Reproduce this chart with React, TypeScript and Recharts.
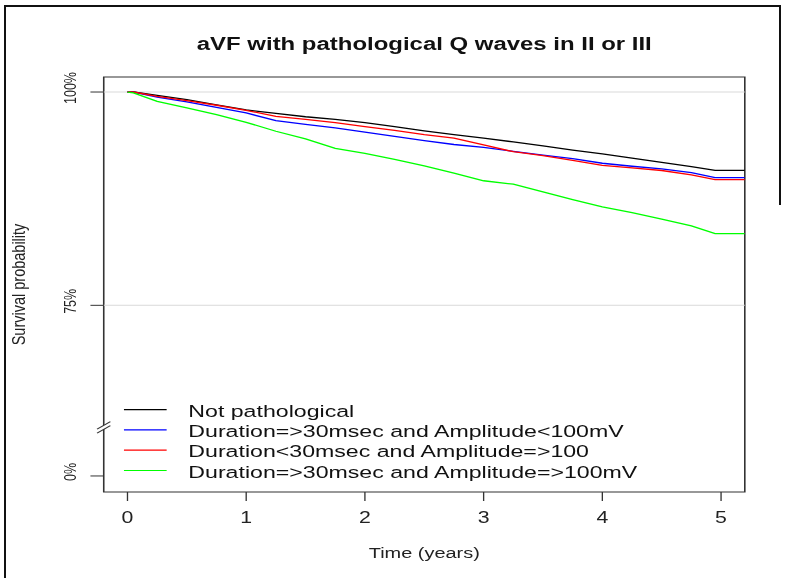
import React from "react";
import {
  LineChart,
  Line,
  XAxis,
  YAxis,
  Legend,
  ReferenceLine,
  ReferenceArea,
  ReferenceDot,
} from "recharts";

// follow-up time (years)
const times = [
  0, 0.05, 0.25, 0.5, 0.75, 1, 1.25, 1.5, 1.75, 2, 2.25, 2.5, 2.75, 3, 3.25,
  3.5, 3.75, 4, 4.25, 4.5, 4.75, 4.95, 5.2,
];

// survival (%) per group
const notPathological = [
  100, 100, 99.6, 99.1, 98.5, 97.9, 97.5, 97.1, 96.8, 96.4, 95.95, 95.45,
  95.0, 94.6, 94.15, 93.7, 93.2, 92.75, 92.25, 91.75, 91.25, 90.82, 90.82,
];
const durLongAmpLow = [
  100, 100, 99.4, 98.85, 98.2, 97.55, 96.65, 96.2, 95.8, 95.3, 94.8, 94.3,
  93.85, 93.5, 93.05, 92.6, 92.2, 91.65, 91.3, 91.0, 90.55, 89.97, 89.97,
];
const durShortAmpHigh = [
  100, 100, 99.5, 99.0, 98.45, 97.85, 97.15, 96.8, 96.4, 95.95, 95.5, 95.0,
  94.6, 93.8, 93.0, 92.55, 92.0, 91.4, 91.1, 90.8, 90.3, 89.73, 89.73,
];
const durLongAmpHigh = [
  100, 99.9, 98.9, 98.15, 97.35, 96.45, 95.4, 94.5, 93.4, 92.8, 92.1, 91.35,
  90.5, 89.6, 89.2, 88.3, 87.4, 86.55, 85.85, 85.1, 84.3, 83.4, 83.4,
];

const seriesKeys = ["black", "blue", "red", "green"];
const seriesNames = [
  "Not pathological",
  "Duration=>30msec and Amplitude<100mV",
  "Duration<30msec and Amplitude=>100",
  "Duration=>30msec and Amplitude=>100mV",
];
const seriesColors = ["#000000", "#0000ff", "#ff0000", "#00ff00"];

const xTicks = [0, 1, 2, 3, 4, 5];
// broken axis: the "0%" tick sits just below the break
const yTicks = [100, 75, 55];
const yTickLabels = ["100%", "75%", "0%"];
const yBreak = 60.7;

const X_MIN = -0.2;
const X_MAX = 5.2;
const Y_MIN = 53.12;
const Y_MAX = 101.76;

const data = times.map((t, i) => ({
  t,
  black: notPathological[i],
  blue: durLongAmpLow[i],
  red: durShortAmpHigh[i],
  green: durLongAmpHigh[i],
}));

const FONT = "'Liberation Sans', Arial, sans-serif";
const SX = 1.33; // the picture is stretched horizontally
const W = 591;
const H = 578;

const YTick = (props: any) => {
  const { y, payload } = props;
  const label = yTickLabels[yTicks.indexOf(payload.value)] ?? "";
  const bx = 57;
  const by = y - 4;
  return (
    <text
      x={bx}
      y={by}
      transform={`rotate(-90 ${bx} ${by})`}
      textAnchor="middle"
      fontSize={12.5}
      fontFamily={FONT}
      fill="#222"
    >
      {label}
    </text>
  );
};

const AxisBreak = (props: any) => {
  const { cx, cy } = props;
  return (
    <g>
      <polygon
        points={`${cx - 5},${cy + 1.8} ${cx + 5},${cy - 5.8} ${cx + 5},${cy - 1.8} ${cx - 5},${cy + 5.8}`}
        fill="#fff"
      />
      <line x1={cx - 5} y1={cy + 1.8} x2={cx + 5} y2={cy - 5.8} stroke="#333" strokeWidth={1} />
      <line x1={cx - 5} y1={cy + 5.8} x2={cx + 5} y2={cy - 1.8} stroke="#333" strokeWidth={1} />
    </g>
  );
};

const LegendBox = () => (
  <svg width={420} height={110} style={{ display: "block" }}>
    {seriesNames.map((name, i) => {
      const ly = 29.6 + i * 20.3;
      return (
        <g key={name}>
          <line x1={15.2} x2={47.3} y1={ly} y2={ly} stroke={seriesColors[i]} strokeWidth={1.2} />
          <text x={63.6} y={ly + 7.2} fontSize={17.4} fontFamily={FONT} fill="#111">
            {name}
          </text>
        </g>
      );
    })}
  </svg>
);

const App: React.FC = () => {
  return (
    <div style={{ position: "absolute", left: 0, top: 0, width: 786, height: 578, background: "#fff" }}>
      {/* screenshot frame */}
      <div style={{ position: "absolute", left: 4, top: 5, width: 777, height: 2, background: "#111" }} />
      <div style={{ position: "absolute", left: 4, top: 5, width: 2, height: 573, background: "#111" }} />
      <div style={{ position: "absolute", left: 779, top: 5, width: 2, height: 200, background: "#111" }} />

      <div
        style={{
          position: "absolute",
          left: 0,
          top: 0,
          width: W,
          height: H,
          transform: `scaleX(${SX})`,
          transformOrigin: "0 0",
          fontFamily: FONT,
        }}
      >
        <div
          style={{
            position: "absolute",
            left: 0,
            top: 34.8,
            width: 638,
            textAlign: "center",
            fontSize: 18,
            lineHeight: "18px",
            fontWeight: "bold",
            color: "#111",
          }}
        >
          aVF with pathological Q waves in II or III
        </div>

        <LineChart width={W} height={H} data={data} margin={{ top: 77, right: 31, bottom: 0, left: 0 }}>
          <XAxis
            dataKey="t"
            type="number"
            domain={[X_MIN, X_MAX]}
            ticks={xTicks}
            interval={0}
            allowDataOverflow
            axisLine={false}
            tickLine={{ stroke: "#333" }}
            tickSize={9}
            tickMargin={11}
            tick={{ fontSize: 16, fill: "#222", fontFamily: FONT }}
            height={86}
            label={{
              content: () => (
                <text x={319} y={558} textAnchor="middle" fontSize={15} fontFamily={FONT} fill="#222">
                  Time (years)
                </text>
              ),
            }}
          />
          <YAxis
            type="number"
            domain={[Y_MIN, Y_MAX]}
            ticks={yTicks}
            interval={0}
            allowDataOverflow
            axisLine={false}
            tickLine={{ stroke: "#333" }}
            tickSize={10}
            tick={YTick}
            width={78}
            label={{
              content: () => (
                <text
                  x={19}
                  y={284.5}
                  transform="rotate(-90 19 284.5)"
                  textAnchor="middle"
                  fontSize={14.5}
                  fontFamily={FONT}
                  fill="#222"
                >
                  Survival probability
                </text>
              ),
            }}
          />
          <ReferenceArea
            x1={X_MIN}
            x2={X_MAX}
            y1={Y_MIN}
            y2={Y_MAX}
            fill="none"
            fillOpacity={0}
            stroke="#333"
            strokeWidth={1.2}
          />
          <ReferenceLine y={100} stroke="#d9d9d9" strokeWidth={1} />
          <ReferenceLine y={75} stroke="#d9d9d9" strokeWidth={1} />
          {seriesKeys.map((k, i) => (
            <Line
              key={k}
              dataKey={k}
              name={seriesNames[i]}
              type="linear"
              stroke={seriesColors[i]}
              strokeWidth={1.3}
              dot={false}
              isAnimationActive={false}
            />
          ))}
          <ReferenceDot x={X_MIN} y={yBreak} r={0} shape={AxisBreak} ifOverflow="visible" />
          <Legend
            layout="horizontal"
            verticalAlign="middle"
            align="center"
            content={LegendBox}
            wrapperStyle={{ left: 78, top: 380, width: 420, height: 110 }}
          />
        </LineChart>
      </div>
    </div>
  );
};

export default App;
